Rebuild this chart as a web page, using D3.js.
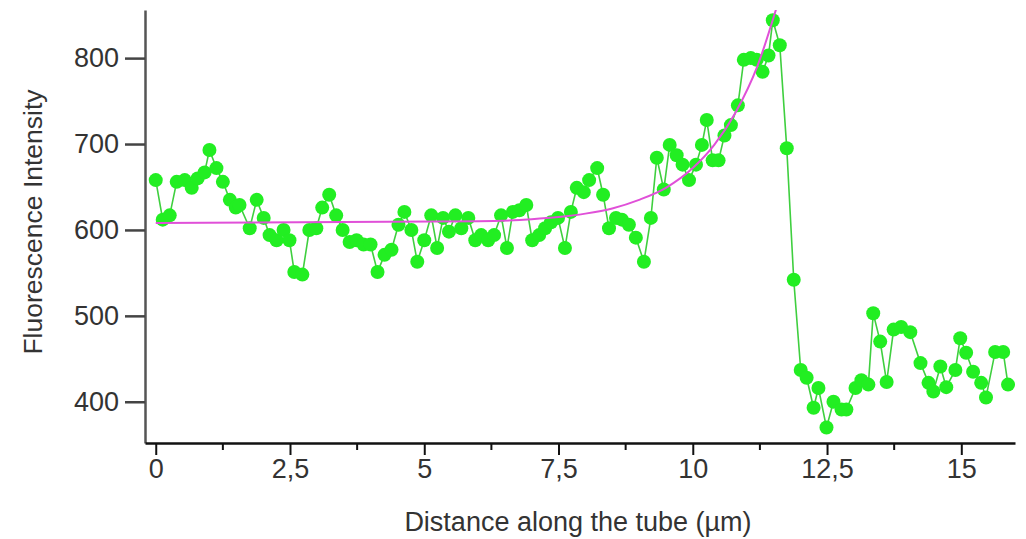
<!DOCTYPE html>
<html>
<head>
<meta charset="utf-8">
<script src="https://cdn.jsdelivr.net/npm/d3@7"></script>
<style>
  body { margin: 0; background: #fff; }
  text { font-family: "Liberation Sans", Arial, sans-serif; fill: #333; }
</style>
</head>
<body>
<div id="chart"></div>
<script>
// measured profile (distance in µm, intensity in a.u.)
var distance = [0.00, 0.13, 0.26, 0.39, 0.54, 0.67, 0.78, 0.91, 1.00, 1.13, 1.25, 1.38, 1.49, 1.56, 1.75, 1.88,
  2.01, 2.12, 2.25, 2.38, 2.49, 2.58, 2.73, 2.86, 2.99, 3.10, 3.23, 3.36, 3.48, 3.61, 3.74, 3.87,
  4.00, 4.13, 4.26, 4.39, 4.52, 4.63, 4.76, 4.87, 5.00, 5.13, 5.24, 5.35, 5.46, 5.58, 5.69, 5.82,
  5.95, 6.06, 6.19, 6.30, 6.43, 6.54, 6.65, 6.77, 6.90, 7.01, 7.14, 7.25, 7.36, 7.49, 7.62, 7.73,
  7.84, 7.97, 8.07, 8.22, 8.33, 8.44, 8.57, 8.68, 8.81, 8.94, 9.09, 9.22, 9.33, 9.46, 9.57, 9.70,
  9.81, 9.93, 10.06, 10.17, 10.26, 10.37, 10.48, 10.59, 10.71, 10.84, 10.95, 11.08, 11.19, 11.30, 11.41, 11.49,
  11.62, 11.75, 11.88, 12.01, 12.12, 12.25, 12.34, 12.49, 12.62, 12.77, 12.86, 13.03, 13.14, 13.27, 13.36, 13.49,
  13.61, 13.74, 13.88, 14.05, 14.24, 14.39, 14.48, 14.61, 14.72, 14.89, 14.98, 15.09, 15.22, 15.37, 15.46, 15.63,
  15.78, 15.87];

var intensity = [658, 612, 617, 656, 658, 649, 660, 667, 693, 672, 656, 635, 626, 629, 602, 635,
  614, 594, 588, 600, 588, 551, 548, 600, 602, 626, 641, 617, 600, 586, 588, 583,
  583, 551, 571, 577, 606, 621, 600, 563, 588, 617, 579, 614, 598, 617, 602, 614,
  588, 594, 588, 594, 617, 579, 621, 623, 629, 588, 594, 602, 609, 614, 579, 621,
  649, 644, 658, 672, 641, 602, 614, 612, 606, 591, 563, 614, 684, 647, 699, 687,
  676, 658, 676, 699, 728, 681, 681, 710, 722, 745, 798, 800, 798, 784, 803, 844,
  815, 695, 542, 437, 428, 393, 416, 370, 400, 391, 391, 416, 425, 420, 503, 470,
  423, 484, 487, 481, 445, 422, 412, 441, 417, 437, 474, 457, 435, 422, 405, 458,
  458, 420];

// fitted curve
var fitX = [0, 6.0, 7.0, 7.5, 8.0, 8.5, 9.0, 9.5, 10.0, 10.4, 10.8, 11.2, 11.6];
var fitY = [608, 610, 612.5, 615, 619, 625, 635, 649, 672, 699, 737, 790, 867];

var xTicks = [0, 2.5, 5, 7.5, 10, 12.5, 15];
var xMinorTicks = [1.25, 3.75, 6.25, 8.75, 11.25, 13.75];
var yTicks = [400, 500, 600, 700, 800];

var svgWidth = 1026;
var svgHeight = 539;

var svg = d3.select("#chart")
  .append("svg")
  .attr("width", svgWidth)
  .attr("height", svgHeight);

var xScale = d3.scaleLinear()
  .domain([-0.2, 16])
  .range([145, 1015]);

var yScale = d3.scaleLinear()
  .domain([352, 856])
  .range([443, 10]);

var fmt = function(d) { return String(d).replace(".", ","); };

// clip for the data area
svg.append("clipPath")
  .attr("id", "plotClip")
  .append("rect")
  .attr("x", 145)
  .attr("y", 10)
  .attr("width", 870)
  .attr("height", 433);

var plot = svg.append("g").attr("clip-path", "url(#plotClip)");

var points = distance.map(function(d, i) { return { x: d, y: intensity[i] }; });
var fit = fitX.map(function(d, i) { return { x: d, y: fitY[i] }; });

var line = d3.line()
  .x(d => xScale(d.x))
  .y(d => yScale(d.y));

// connecting line
plot.append("path")
  .datum(points)
  .attr("d", line)
  .attr("fill", "none")
  .attr("stroke", "#3fcf3f")
  .attr("stroke-width", 1.6);

// markers
plot.selectAll("circle")
  .data(points)
  .enter()
  .append("circle")
  .attr("cx", d => xScale(d.x))
  .attr("cy", d => yScale(d.y))
  .attr("r", 7)
  .attr("fill", "#22ee22");

// fit
plot.append("path")
  .datum(fit)
  .attr("d", line.curve(d3.curveMonotoneX))
  .attr("fill", "none")
  .attr("stroke", "#e050d8")
  .attr("stroke-width", 2);

// y axis
var leftAxis = d3.axisLeft(yScale)
  .tickValues(yTicks)
  .tickSize(20)
  .tickPadding(6)
  .tickSizeOuter(0);

var yAxisG = svg.append("g")
  .attr("transform", "translate(145,0)")
  .call(leftAxis);
yAxisG.select(".domain").attr("stroke", "#555").attr("stroke-width", 2.5);
yAxisG.selectAll(".tick line").attr("stroke", "#444").attr("stroke-width", 2.5);
yAxisG.selectAll(".tick text")
  .attr("font-size", "27px")
  .attr("font-family", "Liberation Sans, Arial, sans-serif")
  .attr("fill", "#333");

// x axis
var bottomAxis = d3.axisBottom(xScale)
  .tickValues(xTicks)
  .tickFormat(fmt)
  .tickSize(12)
  .tickPadding(4)
  .tickSizeOuter(0);

var xAxisG = svg.append("g")
  .attr("transform", "translate(0,443)")
  .call(bottomAxis);
xAxisG.select(".domain").attr("stroke", "#111").attr("stroke-width", 2.5);
xAxisG.selectAll(".tick line").attr("stroke", "#111").attr("stroke-width", 2);
xAxisG.selectAll(".tick text")
  .attr("font-size", "27px")
  .attr("font-family", "Liberation Sans, Arial, sans-serif")
  .attr("fill", "#333");

xAxisG.selectAll(".minor")
  .data(xMinorTicks)
  .enter()
  .append("line")
  .attr("class", "minor")
  .attr("x1", d => xScale(d))
  .attr("x2", d => xScale(d))
  .attr("y1", 0)
  .attr("y2", 7)
  .attr("stroke", "#111")
  .attr("stroke-width", 2);

// axis titles
svg.append("text")
  .attr("transform", "translate(42,222) rotate(-90)")
  .attr("text-anchor", "middle")
  .attr("font-size", "26.5px")
  .text("Fluorescence Intensity");

svg.append("text")
  .attr("x", 578)
  .attr("y", 531)
  .attr("text-anchor", "middle")
  .attr("font-size", "27px")
  .text("Distance along the tube (µm)");
</script>
</body>
</html>
